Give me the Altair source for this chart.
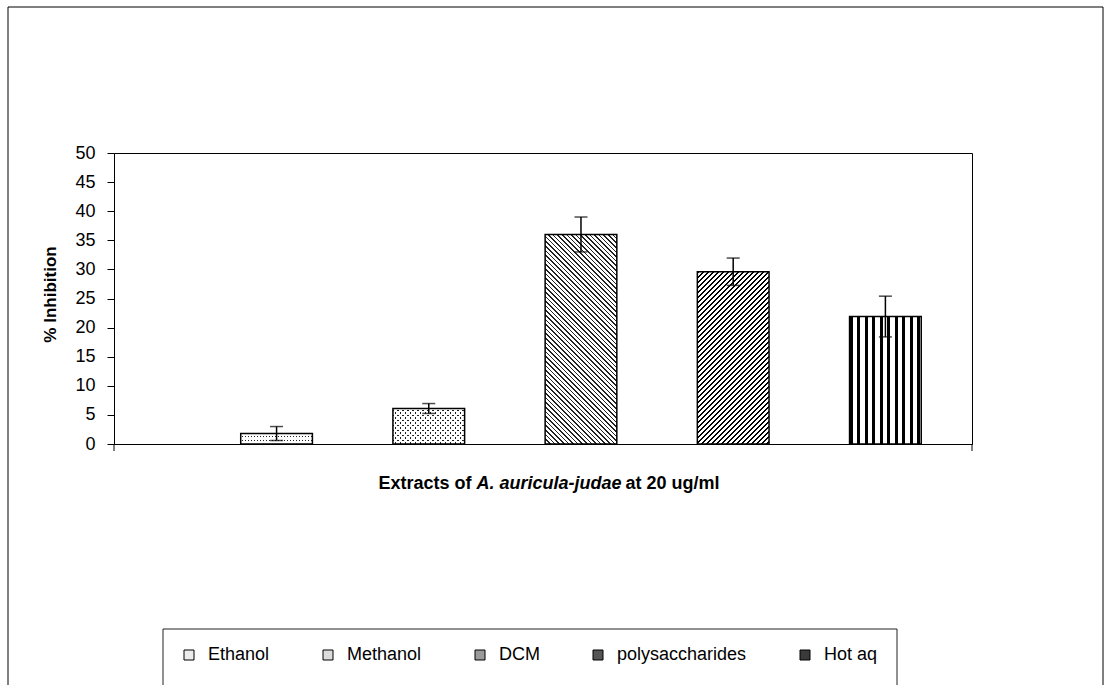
import altair as alt
import pandas as pd

# ---- data -------------------------------------------------------------
extracts = ["Ethanol", "Methanol", "DCM", "polysaccharides", "Hot aq"]
inhibition = [1.8, 6.1, 36.0, 29.6, 21.9]
errors = [1.2, 0.85, 3.0, 2.35, 3.5]
y_ticks = [0, 5, 10, 15, 20, 25, 30, 35, 40, 45, 50]
swatch_greys = ["#ededed", "#dcdcdc", "#9a9a9a", "#555555", "#3a3a3a"]
title_parts = ["Extracts of", "A. auricula-judae", "at 20 ug/ml"]

# ---- layout -----------------------------------------------------------
FONT = "Liberation Sans"
W, H = 858, 291
Y_MAX = 50
PAD_INNER, PAD_OUTER, BAND_ALIGN = 0.529, 0.583, 0.714

df = pd.DataFrame({"extract": extracts, "inhibition": inhibition, "err": errors})
df["lo"] = df["inhibition"] - df["err"]
df["hi"] = df["inhibition"] + df["err"]

step = W / (len(extracts) - PAD_INNER + 2 * PAD_OUTER)
bar_w = step * (1 - PAD_INNER)


def bar_h(name):
    return inhibition[extracts.index(name)] / Y_MAX * H


def stripes(w, h, kind, period, frac, on, off, phase=0.0):
    """Hard-stop linear gradient that draws parallel stripes inside a bar."""
    if kind == "v":
        coords = dict(x1=0, y1=0, x2=1, y2=0)
        span = w
    elif kind == "h":
        coords = dict(x1=0, y1=0, x2=0, y2=1)
        span = h
    else:
        d = w + h
        n2 = w * w + h * h
        if kind == "/":
            coords = dict(x1=0, y1=0, x2=w * d / n2, y2=h * d / n2)
        else:
            coords = dict(x1=0, y1=1, x2=w * d / n2, y2=1 - h * d / n2)
        span = d
    pu = period / span
    stops = []

    def add(o, c):
        stops.append({"offset": round(min(max(o, 0.0), 1.0), 6), "color": c})

    add(0, off)
    s = phase * pu - pu
    while s < 1:
        e = s + frac * pu
        if e > 0:
            add(s, off)
            add(s, on)
            add(e, on)
            add(e, off)
        s += pu
    add(1, off)
    g = {"gradient": "linear", "stops": stops}
    g.update(coords)
    return g


CLEAR = "rgba(255,255,255,0)"
SOLID_DARK = {"gradient": "linear", "x1": 0, "y1": 0, "x2": 1, "y2": 0,
              "stops": [{"offset": 0, "color": "#222"}, {"offset": 1, "color": "#222"}]}

# fill layers drawn over each bar, bottom to top
textures = {
    "Ethanol": [
        SOLID_DARK,
        stripes(bar_w, bar_h("Ethanol"), "h", 4.5, 0.25, CLEAR, "white", 0.45),
        stripes(bar_w, bar_h("Ethanol"), "v", 3.0, 0.4, CLEAR, "white", 0.3),
    ],
    "Methanol": [
        SOLID_DARK,
        stripes(bar_w, bar_h("Methanol"), "/", 5.0, 0.3, CLEAR, "white", 0.3),
        stripes(bar_w, bar_h("Methanol"), "\\", 5.0, 0.3, CLEAR, "white", 0.6),
    ],
    "DCM": [stripes(bar_w, bar_h("DCM"), "\\", 4.6, 0.36, "#222222", "white")],
    "polysaccharides": [stripes(bar_w, bar_h("polysaccharides"), "/", 5.0, 0.55, "black", "white")],
    "Hot aq": [stripes(bar_w, bar_h("Hot aq"), "v", 7.5, 0.45, "black", "white")],
}

x_enc = alt.X(
    "extract:N",
    sort=extracts,
    scale=alt.Scale(domain=extracts, paddingInner=PAD_INNER,
                    paddingOuter=PAD_OUTER, align=BAND_ALIGN),
    axis=alt.Axis(title=None, labels=False, ticks=False, domain=True,
                  domainColor="black", domainWidth=1),
)
y_scale = alt.Scale(domain=[0, Y_MAX], nice=False, zero=True)
y_axis = alt.Axis(
    values=y_ticks, title="% Inhibition", grid=False, labelOverlap=False,
    labelFont=FONT, labelFontSize=18, labelColor="black", labelPadding=12,
    tickColor="black", tickSize=7, tickWidth=1,
    domainColor="black", domainWidth=1,
    titleFont=FONT, titleFontSize=17, titleFontWeight="bold", titleColor="black",
    titleX=-59, titleY=141, titleBaseline="alphabetic", titleAngle=270,
)


def y_of(field):
    return alt.Y(field, scale=y_scale, axis=y_axis, title="% Inhibition")


base = alt.Chart(df).mark_bar().encode(
    x=x_enc,
    y=y_of("inhibition:Q"),
    fill=alt.Fill(
        "extract:N",
        sort=extracts,
        scale=alt.Scale(domain=extracts, range=swatch_greys),
        legend=alt.Legend(
            title=None, orient="none", direction="horizontal",
            legendX=49, legendY=476, padding=17,
            columnPadding=49, labelOffset=10,
            symbolType="square", symbolSize=100,
            symbolStrokeColor="black", symbolStrokeWidth=1,
            labelFont=FONT, labelFontSize=18, labelColor="black",
        ),
    ),
)

layers = [base]
for name in extracts:
    for grad in textures[name]:
        layers.append(
            alt.Chart(df)
            .transform_filter(alt.datum.extract == name)
            .mark_bar(fill=grad)
            .encode(x=x_enc, y=y_of("inhibition:Q"))
        )

outline = alt.Chart(df).mark_bar(
    fill="transparent", stroke="black", strokeWidth=1.5
).encode(x=x_enc, y=y_of("inhibition:Q"))

err_rule = alt.Chart(df).mark_rule(color="black", strokeWidth=1.5).encode(
    x=x_enc, y=y_of("lo:Q"), y2="hi:Q"
)
cap_hi = alt.Chart(df).mark_tick(
    orient="horizontal", size=13, thickness=1.5, color="black"
).encode(x=x_enc, y=y_of("hi:Q"))
cap_lo = alt.Chart(df).mark_tick(
    orient="horizontal", size=13, thickness=1.5, color="black"
).encode(x=x_enc, y=y_of("lo:Q"))


def title_piece(text, x, align, italic=False):
    return alt.Chart(pd.DataFrame({"t": [text]})).mark_text(
        align=align, baseline="alphabetic", font=FONT, fontSize=18,
        fontWeight="bold", fontStyle="italic" if italic else "normal",
        color="black",
    ).encode(text="t:N", x=alt.value(x), y=alt.value(H + 45))


x_title = [
    title_piece(title_parts[0], 357.5, "right"),
    title_piece(title_parts[1], 362.5, "left", italic=True),
    title_piece(title_parts[2], 511.5, "left"),
]

# small category-axis ticks at both ends of the plot frame
end_ticks = [
    alt.Chart(pd.DataFrame({"k": [0]})).mark_rule(color="black", strokeWidth=1).encode(
        x=alt.value(px), y=alt.value(H), y2=alt.value(H + 7)
    )
    for px in (0, W)
]

# legend box (runs past the bottom edge of the page)
legend_box = alt.Chart(pd.DataFrame({"k": [0]})).mark_rect(
    fill="transparent", stroke="#222", strokeWidth=1
).encode(x=alt.value(49), x2=alt.value(783), y=alt.value(476), y2=alt.value(560))

# outer chart-area border
frame = alt.Chart(pd.DataFrame({"k": [0]})).mark_rect(
    fill="transparent", stroke="black", strokeWidth=1
).encode(x=alt.value(-106), x2=alt.value(989), y=alt.value(-146), y2=alt.value(560))

chart = (
    alt.layer(*layers, outline, err_rule, cap_hi, cap_lo, *x_title,
              *end_ticks, legend_box, frame)
    .properties(
        width=W, height=H,
        autosize=alt.AutoSizeParams(type="none"),
        padding={"left": 114, "top": 153, "right": 138, "bottom": 241},
        background="white",
    )
    .configure_view(stroke="black", strokeWidth=1)
)

chart.save("out.html", embed_options={"renderer": "svg", "actions": False})
